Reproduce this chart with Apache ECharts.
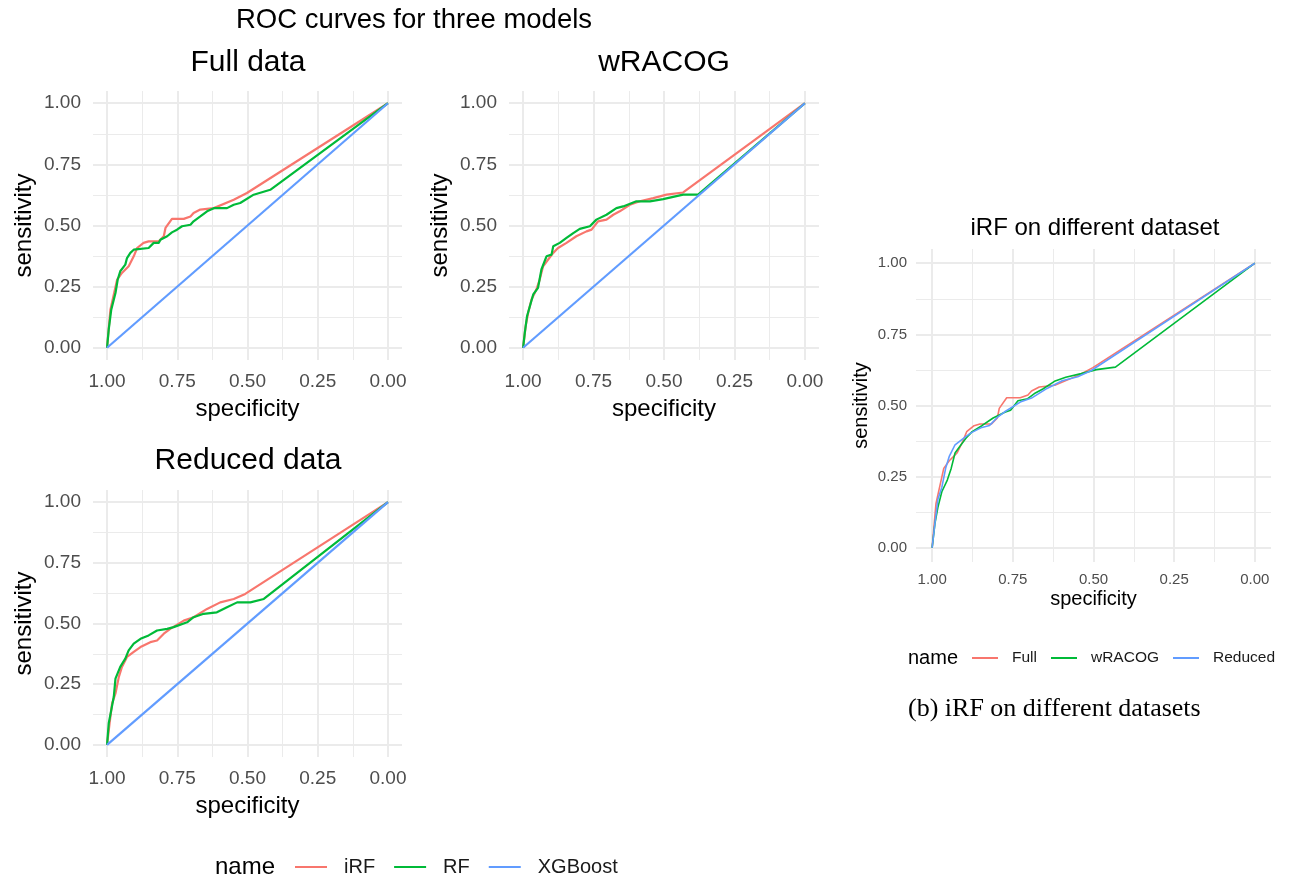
<!DOCTYPE html>
<html>
<head>
<meta charset="utf-8">
<title>ROC curves for three models</title>
<script src="https://cdn.jsdelivr.net/npm/echarts@6.0.0/dist/echarts.min.js"></script>
<style>
  html, body { margin: 0; padding: 0; background: #fff; }
  #chart { width: 1291px; height: 879px; }
</style>
</head>
<body>
<div id="chart"></div>
<script>
// ticks and names
const tickValues = [0, 0.25, 0.5, 0.75, 1];
const minorValues = [0.125, 0.375, 0.625, 0.875];
const modelNames = ['iRF', 'RF', 'XGBoost'];
const datasetNames = ['Full', 'wRACOG', 'Reduced'];
const panelTitles = ['Full data', 'wRACOG', 'Reduced data', 'iRF on different dataset'];

// curves, points are [specificity, sensitivity]
const fullIRF = [[1,0],[0.988,0.156],[0.964,0.279],[0.947,0.306],[0.923,0.333],[0.905,0.374],[0.893,0.408],[0.870,0.429],[0.852,0.435],[0.816,0.435],[0.798,0.456],[0.792,0.490],[0.769,0.527],[0.727,0.527],[0.703,0.537],[0.692,0.551],[0.668,0.565],[0.620,0.571],[0.549,0.605],[0.502,0.633],[0,1]];
const fullRF = [[1,0],[0.994,0.075],[0.985,0.156],[0.970,0.224],[0.962,0.279],[0.953,0.313],[0.935,0.340],[0.929,0.367],[0.917,0.388],[0.905,0.401],[0.852,0.408],[0.834,0.429],[0.816,0.429],[0.810,0.442],[0.786,0.456],[0.769,0.472],[0.751,0.483],[0.733,0.497],[0.703,0.503],[0.692,0.517],[0.668,0.537],[0.644,0.558],[0.620,0.571],[0.573,0.571],[0.549,0.585],[0.526,0.592],[0.478,0.626],[0.419,0.646],[0,1]];
const wracogIRF = [[1,0],[0.991,0.088],[0.982,0.143],[0.970,0.197],[0.953,0.238],[0.941,0.279],[0.929,0.333],[0.911,0.361],[0.893,0.388],[0.876,0.408],[0.846,0.429],[0.811,0.456],[0.775,0.476],[0.757,0.483],[0.734,0.517],[0.704,0.524],[0.680,0.544],[0.657,0.558],[0.621,0.585],[0.586,0.599],[0.538,0.612],[0.491,0.626],[0.432,0.635],[0,1]];
const wracogRF = [[1,0],[0.994,0.061],[0.986,0.129],[0.976,0.170],[0.964,0.218],[0.947,0.245],[0.935,0.320],[0.917,0.374],[0.899,0.381],[0.893,0.415],[0.870,0.429],[0.846,0.449],[0.822,0.469],[0.799,0.486],[0.763,0.497],[0.740,0.524],[0.704,0.544],[0.669,0.571],[0.645,0.578],[0.598,0.599],[0.550,0.599],[0.503,0.608],[0.432,0.626],[0.379,0.626],[0,1]];
const reducedIRF = [[1,0],[0.991,0.089],[0.982,0.171],[0.970,0.212],[0.958,0.280],[0.947,0.321],[0.929,0.362],[0.905,0.383],[0.881,0.403],[0.846,0.423],[0.822,0.430],[0.798,0.458],[0.775,0.478],[0.727,0.512],[0.692,0.526],[0.644,0.560],[0.597,0.587],[0.549,0.601],[0.508,0.622],[0,1]];
const reducedRF = [[1,0],[0.994,0.089],[0.985,0.143],[0.976,0.198],[0.970,0.273],[0.953,0.321],[0.935,0.355],[0.923,0.389],[0.905,0.417],[0.881,0.437],[0.852,0.451],[0.822,0.471],[0.786,0.478],[0.763,0.485],[0.715,0.505],[0.692,0.526],[0.656,0.540],[0.609,0.546],[0.573,0.567],[0.537,0.587],[0.490,0.587],[0.442,0.601],[0,1]];
const xgbCurve = [[1,0],[0,1]];

const colors = ['#F8766D', '#00BA38', '#619CFF'];
const font = "'Liberation Sans', Arial, sans-serif";
const gridColor = '#EBEBEB';

// panel boxes (plot area incl. ggplot 5% expansion)
const panels = [
    { left: 93, top: 91, width: 309, height: 269, small: false },
    { left: 509, top: 91, width: 310, height: 269, small: false },
    { left: 93, top: 490, width: 309, height: 267, small: false },
    { left: 916, top: 249, width: 355, height: 313, small: true }
];

let grids = [], xAxes = [], yAxes = [], series = [];

panels.forEach(function (p, g) {
    grids.push({ left: p.left, top: p.top, width: p.width, height: p.height, outerBoundsMode: 'none' });
    let labelSize = p.small ? 15 : 19;
    let nameSize = p.small ? 20 : 24;
    // major axes
    xAxes.push({
        type: 'value', gridIndex: g, min: -0.05, max: 1.05, inverse: true,
        name: 'specificity', nameLocation: 'middle', nameGap: p.small ? 27 : 37,
        nameTextStyle: { fontSize: nameSize, color: '#000', fontFamily: font },
        axisLine: { show: false, onZero: false },
        axisTick: { show: false, customValues: tickValues },
        axisLabel: { customValues: tickValues, margin: p.small ? 10 : 12, fontSize: labelSize, color: '#4D4D4D', fontFamily: font,
            formatter: function (v) { return v.toFixed(2); } },
        splitLine: { show: true, lineStyle: { color: gridColor, width: 2 } }
    });
    yAxes.push({
        type: 'value', gridIndex: g, min: -0.05, max: 1.05,
        name: 'sensitivity', nameLocation: 'middle', nameGap: p.small ? 45 : 57, nameRotate: 90,
        nameTextStyle: { fontSize: nameSize, color: '#000', fontFamily: font },
        axisLine: { show: false, onZero: false },
        axisTick: { show: false, customValues: tickValues },
        axisLabel: { customValues: tickValues, margin: p.small ? 9 : 12, fontSize: labelSize, color: '#4D4D4D', fontFamily: font,
            formatter: function (v) { return v.toFixed(2); } },
        splitLine: { show: true, lineStyle: { color: gridColor, width: 2 } }
    });
    // minor grid lines
    xAxes.push({
        type: 'value', gridIndex: g, min: -0.05, max: 1.05, inverse: true,
        axisLine: { show: false, onZero: false },
        axisTick: { show: false, customValues: minorValues },
        axisLabel: { show: false },
        splitLine: { show: true, lineStyle: { color: gridColor, width: 1 } }
    });
    yAxes.push({
        type: 'value', gridIndex: g, min: -0.05, max: 1.05,
        axisLine: { show: false, onZero: false },
        axisTick: { show: false, customValues: minorValues },
        axisLabel: { show: false },
        splitLine: { show: true, lineStyle: { color: gridColor, width: 1 } }
    });
});

function curve(name, data, g, i, width) {
    return {
        type: 'line', name: name, data: data,
        xAxisIndex: 2 * g, yAxisIndex: 2 * g,
        symbol: 'none', showSymbol: false, clip: false,
        lineStyle: { color: colors[i], width: width },
        itemStyle: { color: colors[i] },
        emphasis: { disabled: true }
    };
}

const panelCurves = [
    [fullIRF, fullRF, xgbCurve],
    [wracogIRF, wracogRF, xgbCurve],
    [reducedIRF, reducedRF, xgbCurve]
];
panelCurves.forEach(function (curves, g) {
    curves.forEach(function (d, i) {
        series.push(curve(modelNames[i], d, g, i, 2.2));
    });
});
[fullIRF, wracogIRF, reducedIRF].forEach(function (d, i) {
    series.push(curve(datasetNames[i], d, 3, i, 1.6));
});

function txt(text, x, y, size, align, family) {
    return {
        type: 'text', x: x, y: y,
        style: { text: text, font: size + 'px ' + (family || font), fill: '#000', textAlign: align || 'center', textVerticalAlign: 'middle' }
    };
}

const option = {
    animation: false,
    backgroundColor: '#fff',
    grid: grids,
    xAxis: xAxes,
    yAxis: yAxes,
    series: series,
    legend: [
        {
            data: modelNames, left: 295, top: 857, padding: 0,
            icon: 'rect', itemWidth: 32, itemHeight: 2, itemGap: 19,
            selectedMode: false,
            textStyle: { fontSize: 20, color: '#1a1a1a', fontFamily: font, padding: [0, 0, 0, 12] }
        },
        {
            data: datasetNames, left: 972, top: 650, padding: 0,
            icon: 'rect', itemWidth: 26, itemHeight: 2, itemGap: 14,
            selectedMode: false,
            textStyle: { fontSize: 15.5, color: '#1a1a1a', fontFamily: font, padding: [0, 0, 0, 9] }
        }
    ],
    graphic: [
        txt('ROC curves for three models', 414, 20, 27.5),
        txt(panelTitles[0], 248, 63, 30),
        txt(panelTitles[1], 664, 63, 30),
        txt(panelTitles[2], 248, 461, 30),
        txt(panelTitles[3], 1095, 228, 24),
        txt('name', 215, 867, 24, 'left'),
        txt('name', 908, 658, 20, 'left'),
        txt('(b) iRF on different datasets', 908, 709, 26, 'left', "'Liberation Serif', 'DejaVu Serif', serif")
    ]
};

const chart = echarts.init(document.getElementById('chart'));
chart.setOption(option);
</script>
</body>
</html>
